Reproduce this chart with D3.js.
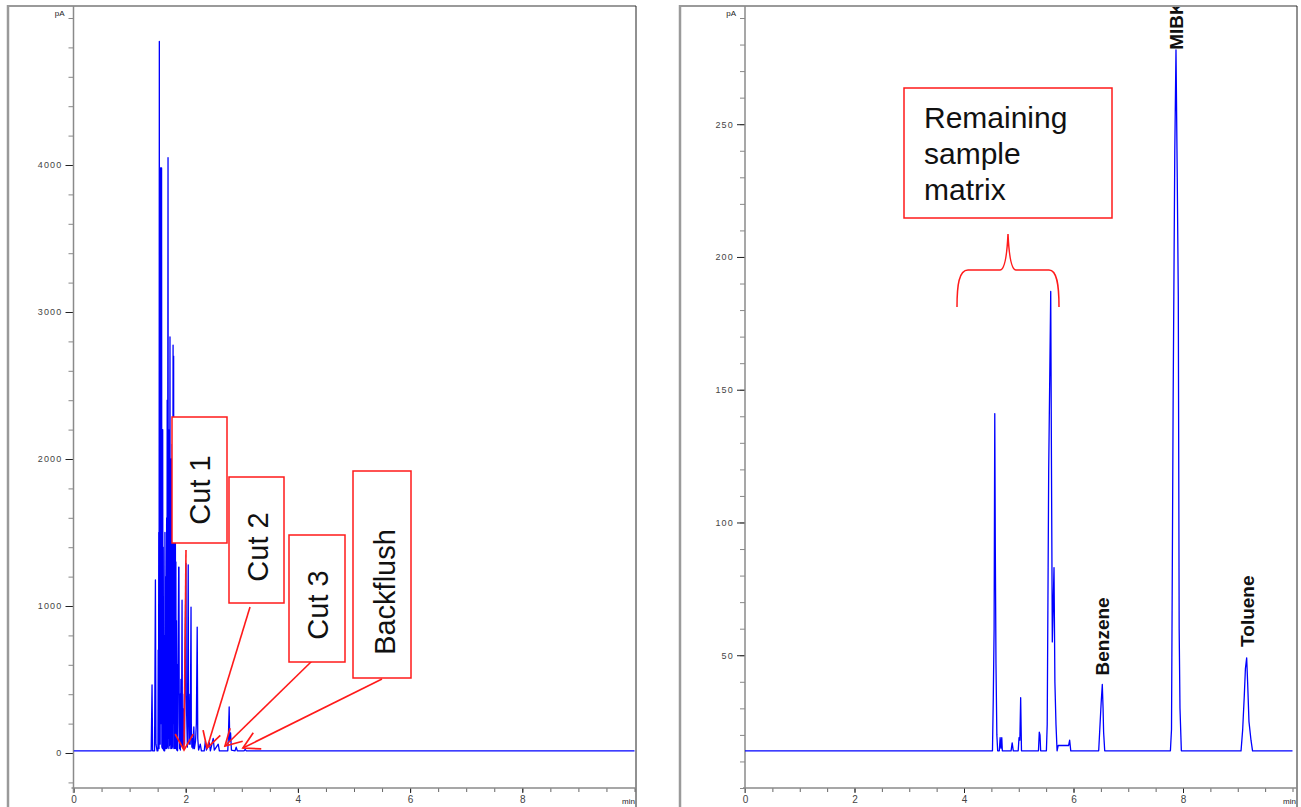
<!DOCTYPE html>
<html>
<head>
<meta charset="utf-8">
<script src="https://cdn.jsdelivr.net/npm/d3@7"></script>
<style>
    body { margin: 0; background: #fff; }
    svg text { font-family: "Liberation Sans", Arial, sans-serif; }
    .tick text { fill: #444; font-size: 9px; letter-spacing: 1.2px; }
</style>
</head>
<body>
<div id="chart"></div>
<script>
// Front detector (left) : [time in min, signal in pA]
const left_trace = [
    [0, 15], [1.385, 15], [1.40, 463], [1.41, 15], [1.445, 15], [1.46, 1177], [1.47, 60], [1.49, 15],
    [1.505, 15], [1.51, 700], [1.515, 40], [1.52, 1500], [1.525, 30], [1.53, 4840], [1.535, 300],
    [1.54, 2600], [1.545, 60], [1.55, 3980], [1.555, 3000], [1.56, 3980], [1.565, 200], [1.57, 3980],
    [1.575, 40], [1.58, 1800], [1.585, 30], [1.59, 2200], [1.595, 60], [1.60, 1400], [1.605, 20],
    [1.61, 800], [1.615, 15], [1.62, 500], [1.625, 15], [1.63, 1500], [1.635, 40], [1.64, 1200],
    [1.645, 30], [1.65, 900], [1.655, 50], [1.66, 1600], [1.665, 30], [1.67, 2400], [1.675, 40],
    [1.685, 4050], [1.69, 100], [1.695, 2200], [1.70, 30], [1.705, 1900], [1.71, 50], [1.72, 2830],
    [1.725, 60], [1.73, 1600], [1.735, 30], [1.74, 2000], [1.745, 60], [1.75, 1500], [1.755, 30],
    [1.76, 2100], [1.765, 40], [1.775, 2775], [1.78, 200], [1.785, 2700], [1.79, 30], [1.795, 1800],
    [1.80, 40], [1.805, 1200], [1.81, 30], [1.815, 2060], [1.82, 50], [1.825, 1300], [1.83, 30],
    [1.835, 900], [1.84, 20], [1.85, 600], [1.855, 15], [1.865, 700], [1.875, 1265], [1.88, 1265],
    [1.885, 200], [1.89, 30], [1.90, 400], [1.905, 20], [1.915, 500], [1.925, 60], [1.935, 1040],
    [1.94, 300], [1.945, 40], [1.955, 300], [1.96, 30], [1.975, 400], [1.98, 60], [1.99, 700],
    [2.005, 1290], [2.01, 400], [2.02, 200], [2.03, 40], [2.045, 1280], [2.05, 300], [2.06, 60],
    [2.075, 400], [2.08, 60], [2.095, 993], [2.10, 200], [2.11, 40], [2.12, 100], [2.13, 30],
    [2.145, 177], [2.155, 30], [2.175, 80], [2.19, 200], [2.205, 857], [2.215, 100], [2.23, 20],
    [2.26, 60], [2.28, 15], [2.33, 15], [2.35, 80], [2.37, 20], [2.42, 70], [2.44, 15], [2.49, 100],
    [2.51, 20], [2.58, 60], [2.60, 15], [2.75, 15], [2.76, 100], [2.775, 313], [2.785, 80], [2.80, 136],
    [2.815, 20], [2.88, 15], [2.90, 40], [2.92, 15], [3.04, 15], [3.06, 25], [3.08, 15], [10, 15]
];

// Back detector (right) : [time in min, signal in pA]
const right_trace = [
    [0, 14], [4.52, 14], [4.535, 34], [4.55, 60], [4.562, 141], [4.572, 90], [4.584, 47], [4.60, 20],
    [4.615, 14], [4.645, 14], [4.66, 19], [4.675, 15], [4.69, 19], [4.70, 14], [4.86, 14], [4.88, 17],
    [4.90, 14], [4.99, 14], [5.005, 19], [5.02, 18], [5.035, 34], [5.05, 14], [5.36, 14], [5.375, 21],
    [5.388, 20], [5.40, 14], [5.505, 14], [5.52, 24], [5.547, 120], [5.584, 187], [5.598, 120],
    [5.613, 55], [5.63, 70], [5.644, 83], [5.66, 40], [5.68, 24], [5.70, 14], [5.72, 16], [5.91, 16],
    [5.93, 18], [5.95, 14], [6.46, 14], [6.48, 22], [6.505, 32], [6.526, 39], [6.54, 30], [6.55, 21],
    [6.57, 14], [7.77, 14], [7.79, 22], [7.82, 146], [7.85, 240], [7.872, 278], [7.895, 230],
    [7.914, 185], [7.93, 60], [7.945, 30], [7.97, 14], [9.06, 14], [9.09, 22], [9.12, 35], [9.14, 45],
    [9.163, 49], [9.18, 40], [9.205, 25], [9.242, 18], [9.27, 14], [10, 14]
];

// Axis ticks
const time_labels = [0, 2, 4, 6, 8];
const left_y_labels = [0, 1000, 2000, 3000, 4000];
const right_y_labels = [50, 100, 150, 200, 250];

// Heart-cut windows pointed at in the left chromatogram (min, pA)
const cut_names = ["Cut 1", "Cut 2", "Cut 3", "Backflush"];
const cut_times = [1.97, 2.38, 2.70, 3.02];
const cut_levels = [20, 34, 48, 34];

// Named peaks in the right chromatogram
const peak_names = ["Benzene", "MIBK", "Toluene"];
const peak_times = [6.526, 7.872, 9.163];
const peak_heights = [39, 278, 49];

const matrix_lines = ["Remaining", "sample", "matrix"];

// Set up an SVG object
let svg = d3.select("#chart")
    .append("svg")
    .attr("width", 1301)
    .attr("height", 807);

function drawPanel(p) {
    let g = svg.append("g");

    // Frame round the panel
    g.append("line").attr("x1", p.frameL).attr("x2", p.frameL).attr("y1", 5).attr("y2", 807)
        .style("stroke", "#9a9a9a").style("stroke-width", 2.5);
    g.append("line").attr("x1", p.frameL).attr("x2", p.frameR).attr("y1", 6).attr("y2", 6)
        .style("stroke", "#9a9a9a").style("stroke-width", 2);
    g.append("line").attr("x1", p.frameR).attr("x2", p.frameR).attr("y1", 6).attr("y2", 807)
        .style("stroke", "#222").style("stroke-width", 1);

    let x = d3.scaleLinear().domain([0, 10]).range([p.axisX, p.x1]);
    let y = d3.scaleLinear().domain(p.yDomain).range([788, 18]);

    // y axis: minor ticks, then labelled ones
    let yMinor = g.append("g")
        .attr("transform", `translate(${p.axisX},0)`)
        .call(d3.axisLeft(y).tickValues(d3.range(p.yMinorFrom, p.yDomain[1] + 0.001, p.yStep)).tickSize(5).tickFormat(""));
    yMinor.select(".domain").remove();
    yMinor.selectAll("line").style("stroke", "#888");

    let yMajor = g.append("g")
        .attr("transform", `translate(${p.axisX},0)`)
        .call(d3.axisLeft(y).tickValues(p.yLabels).tickSize(8).tickPadding(3).tickFormat(d3.format("d")));
    yMajor.select(".domain").remove();
    yMajor.selectAll("line").style("stroke", "#222");

    // x axis
    let xMinor = g.append("g")
        .attr("transform", "translate(0,788)")
        .call(d3.axisBottom(x).tickValues(d3.range(0, 10.001, 0.5)).tickSize(4).tickFormat(""));
    xMinor.select(".domain").remove();
    xMinor.selectAll("line").style("stroke", "#666");

    let xMajor = g.append("g")
        .attr("transform", "translate(0,788)")
        .call(d3.axisBottom(x).tickValues(time_labels).tickSize(5).tickPadding(3));
    xMajor.select(".domain").remove();
    xMajor.selectAll("line").style("stroke", "#222");
    xMajor.selectAll("text").style("font-size", "10px").style("letter-spacing", "0px");

    // axis lines
    g.append("line").attr("x1", p.axisX).attr("x2", p.axisX).attr("y1", 6).attr("y2", 793)
        .style("stroke", "#8a8a8a").style("stroke-width", 1.5);
    g.append("line").attr("x1", p.axisX - 2).attr("x2", p.frameR).attr("y1", 788).attr("y2", 788)
        .style("stroke", "#8a8a8a").style("stroke-width", 1.5);

    g.append("text").attr("x", p.axisX - 9).attr("y", 16).attr("text-anchor", "end")
        .style("font-size", "8px").style("fill", "#222").text("pA");
    g.append("text").attr("x", p.frameR - 1).attr("y", 804).attr("text-anchor", "end")
        .style("font-size", "8px").style("fill", "#222").text("min");

    // Signal, clipped to the plot area
    g.append("clipPath").attr("id", p.id + "-clip")
        .append("rect").attr("x", p.axisX).attr("y", 7)
        .attr("width", p.frameR - p.axisX).attr("height", 781);

    let line = d3.line()
        .x(function (d) { return x(d[0]); })
        .y(function (d) { return y(d[1]); });

    let inner = g.append("g").attr("clip-path", `url(#${p.id}-clip)`);
    inner.append("path")
        .datum(p.data)
        .attr("d", line)
        .style("fill", "none")
        .style("stroke", "#0000ff")
        .style("stroke-width", 1.3)
        .style("stroke-linejoin", "round");

    return {g: inner, x: x, y: y};
}

let left = drawPanel({
    id: "front", data: left_trace, frameL: 8, frameR: 636, axisX: 73.5, x1: 634.5,
    yDomain: [-238, 5000], yMinorFrom: -200, yStep: 200, yLabels: left_y_labels
});

let right = drawPanel({
    id: "back", data: right_trace, frameL: 680, frameR: 1297, axisX: 745, x1: 1292.5,
    yDomain: [0, 290], yMinorFrom: 0, yStep: 10, yLabels: right_y_labels
});

// Arrow head for the cut annotations
svg.append("defs").append("marker")
    .attr("id", "arrow")
    .attr("markerUnits", "userSpaceOnUse")
    .attr("markerWidth", 22).attr("markerHeight", 22)
    .attr("viewBox", "0 0 22 22")
    .attr("refX", 20).attr("refY", 11)
    .attr("orient", "auto")
    .append("path")
    .attr("d", "M4,2 L20,11 L4,20")
    .style("fill", "none")
    .style("stroke", "#ff1a1a")
    .style("stroke-width", 1.7);

// Box layout for the cut labels (pixels)
const cut_boxes = [
    {x: 172, y: 417, w: 55, h: 126, tx: 210, ty: 490, ax: 186, ay: 550},
    {x: 229, y: 477, w: 55, h: 126, tx: 268, ty: 547, ax: 250, ay: 607},
    {x: 289, y: 535, w: 56, h: 127, tx: 328, ty: 605, ax: 312, ay: 661},
    {x: 353, y: 471, w: 58, h: 207, tx: 395, ty: 592, ax: 382, ay: 679}
];

cut_names.forEach(function (name, i) {
    const b = cut_boxes[i];
    svg.append("line")
        .attr("x1", b.ax).attr("y1", b.ay)
        .attr("x2", left.x(cut_times[i])).attr("y2", left.y(cut_levels[i]))
        .attr("marker-end", "url(#arrow)")
        .style("stroke", "#ff1a1a").style("stroke-width", 1.6);
    svg.append("rect")
        .attr("x", b.x).attr("y", b.y).attr("width", b.w).attr("height", b.h)
        .style("fill", "#fff").style("stroke", "#ff1a1a").style("stroke-width", 1.5);
    svg.append("text")
        .attr("transform", `translate(${b.tx},${b.ty}) rotate(-90)`)
        .attr("text-anchor", "middle")
        .style("font-size", "29px").style("fill", "#111")
        .text(name);
});

// Peak names, rotated, above each apex
const peak_gap = [9, 0, 11];
peak_names.forEach(function (name, i) {
    right.g.append("text")
        .attr("transform", `translate(${right.x(peak_times[i]) + 7},${right.y(peak_heights[i]) - peak_gap[i]}) rotate(-90)`)
        .style("font-size", "19px").style("font-weight", "bold").style("fill", "#111")
        .text(name);
});

// "Remaining sample matrix" box with its brace
svg.append("rect")
    .attr("x", 904).attr("y", 88).attr("width", 208).attr("height", 130)
    .style("fill", "#fff").style("stroke", "#ff1a1a").style("stroke-width", 1.5);
matrix_lines.forEach(function (t, i) {
    svg.append("text")
        .attr("x", 924).attr("y", 128 + i * 36)
        .style("font-size", "30px").style("fill", "#111")
        .text(t);
});
svg.append("path")
    .attr("d", "M957,307 C957,285 959,270 968,270 L1000,270 C1005,270 1007,255 1008,234 C1009,255 1011,270 1016,270 L1049,270 C1057,270 1059,285 1059,307")
    .style("fill", "none").style("stroke", "#ff1a1a").style("stroke-width", 1.5);
</script>
</body>
</html>
